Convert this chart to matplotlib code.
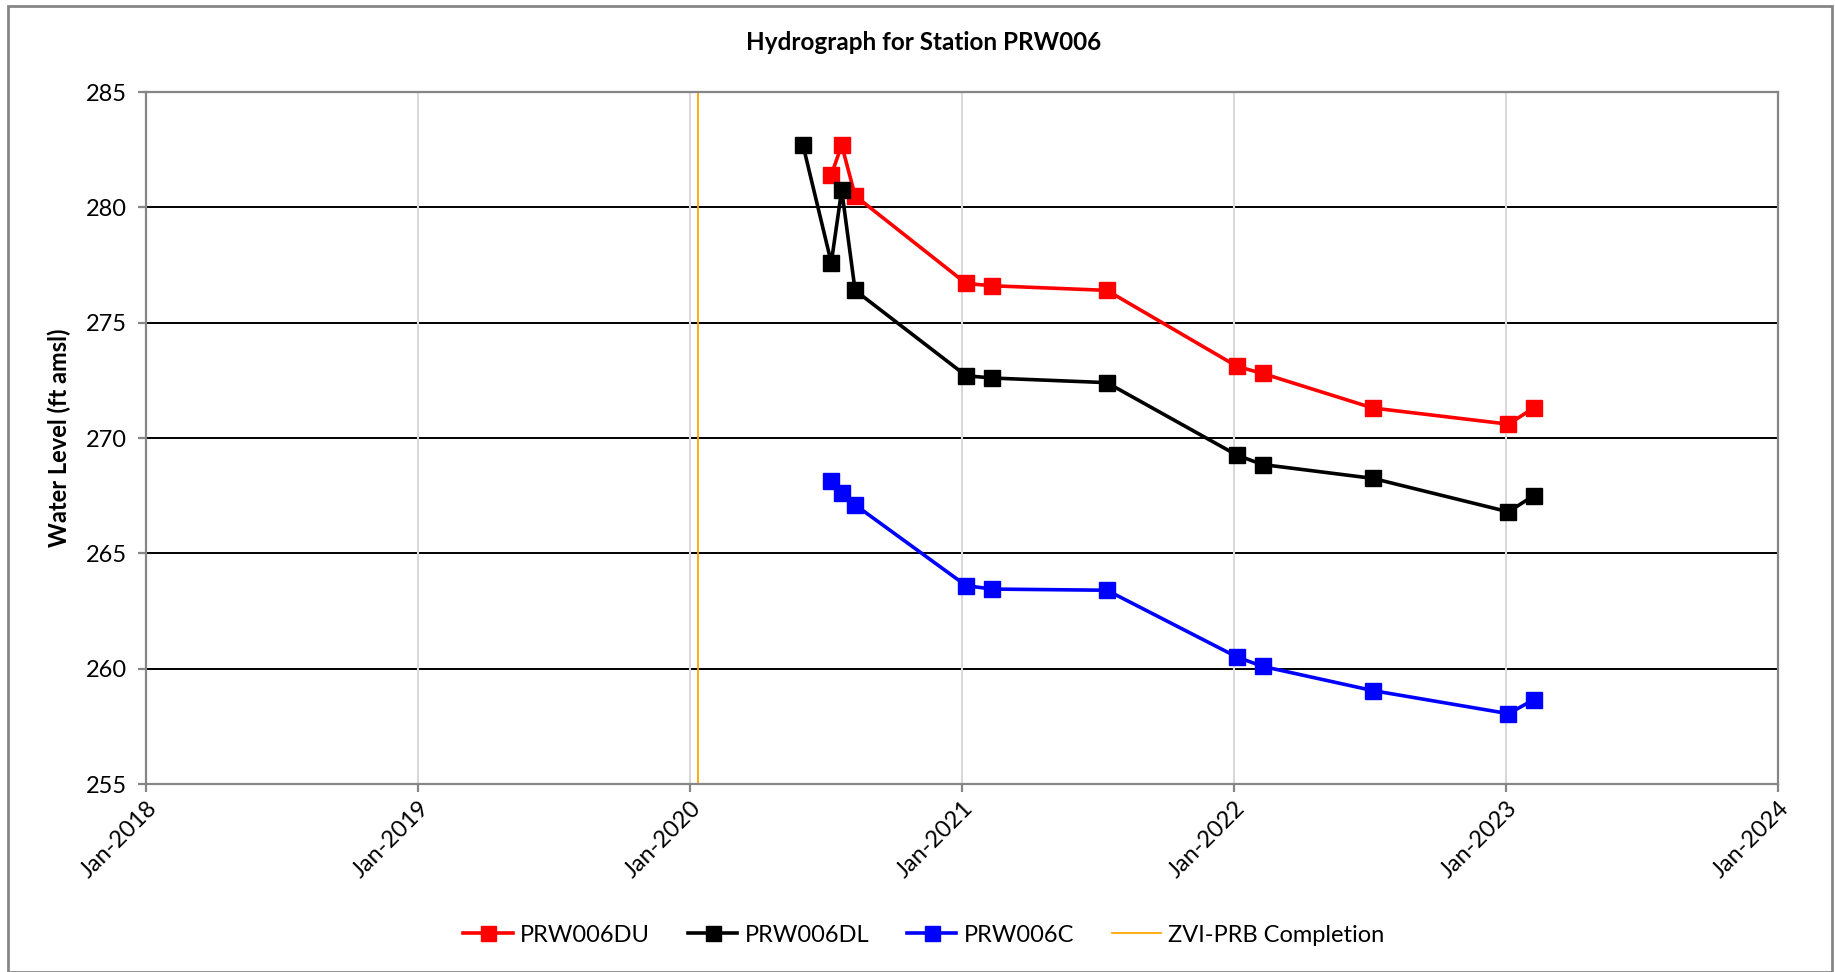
import numpy as np
import pandas as pd
import matplotlib
matplotlib.use('Agg')
import matplotlib.pyplot as plt
import matplotlib.dates as mdates
from matplotlib.patches import Rectangle

plt.rcParams['font.family'] = ['Lato', 'DejaVu Sans']

# sampling dates
du_dates = ['2020-07-09', '2020-07-23', '2020-08-10', '2021-01-06', '2021-02-10', '2021-07-14',
            '2022-01-05', '2022-02-08', '2022-07-06', '2023-01-04', '2023-02-07']
dl_dates = ['2020-06-01', '2020-07-09', '2020-07-23', '2020-08-10', '2021-01-06', '2021-02-10',
            '2021-07-14', '2022-01-05', '2022-02-08', '2022-07-06', '2023-01-04', '2023-02-07']
c_dates = du_dates

# water levels (ft amsl)
du_level = [281.4, 282.7, 280.5, 276.7, 276.6, 276.4, 273.1, 272.8, 271.3, 270.6, 271.3]
dl_level = [282.7, 277.6, 280.75, 276.4, 272.7, 272.6, 272.4, 269.25, 268.85, 268.25, 266.8, 267.5]
c_level = [268.15, 267.6, 267.1, 263.6, 263.45, 263.4, 260.5, 260.1, 259.05, 258.05, 258.65]

zvi_date = '2020-01-12'

fig = plt.figure(figsize=(18.35, 9.72), dpi=100)
ax = fig.add_axes([146/1835, 1-784/972, (1778-146)/1835, (784-92)/972])

# outer chart border
fig.patches.append(Rectangle((8/1835, 0.0), (1832-8)/1835, 1-6/972, transform=fig.transFigure,
                             fill=False, edgecolor='#868686', linewidth=2))

ax.axvline(pd.Timestamp(zvi_date), color='#FFA500', linewidth=1.3, label='ZVI-PRB Completion', zorder=2)

ms = 12
lw = 2.6
ax.plot(pd.to_datetime(du_dates), du_level, color='#FF0000', marker='s', markersize=ms, linewidth=lw,
        label='PRW006DU', zorder=4)
ax.plot(pd.to_datetime(dl_dates), dl_level, color='black', marker='s', markersize=ms, linewidth=lw,
        label='PRW006DL', zorder=4)
ax.plot(pd.to_datetime(c_dates), c_level, color='#0000FF', marker='s', markersize=ms, linewidth=lw,
        label='PRW006C', zorder=4)

ax.set_xlim(pd.Timestamp('2018-01-01'), pd.Timestamp('2024-01-01'))
ax.set_ylim(255, 285)
ax.set_yticks(np.arange(255, 286, 5))
years = pd.to_datetime(['2018-01-01', '2019-01-01', '2020-01-01', '2021-01-01',
                        '2022-01-01', '2023-01-01', '2024-01-01'])
ax.set_xticks(years)
ax.xaxis.set_major_formatter(mdates.DateFormatter('%b-%Y'))

# grid lines
for y in range(260, 285, 5):
    ax.axhline(y, color='black', linewidth=1.4, zorder=1)
for x in years[1:-1]:
    ax.axvline(x, color='#D9D9D9', linewidth=1.5, zorder=1)

for s in ax.spines.values():
    s.set_color('#868686')
    s.set_linewidth(1.6)
ax.tick_params(axis='both', color='#868686', width=1.6, length=6, labelsize=17, direction='out')
ax.tick_params(axis='y', pad=8)
plt.setp(ax.get_xticklabels(), rotation=45, ha='right', rotation_mode='anchor')

ax.set_ylabel('Water Level (ft amsl)', fontsize=17, fontweight='bold', labelpad=10)
fig.text(924/1835, 1-43/972, 'Hydrograph for Station PRW006', ha='center', va='center',
         fontsize=17.5, fontweight='bold')

handles, labels = ax.get_legend_handles_labels()
order = [1, 2, 3, 0]
fig.legend([handles[i] for i in order], [labels[i] for i in order], loc='center',
           bbox_to_anchor=(924/1835, 1-935/972), ncol=4, frameon=False, fontsize=17,
           handlelength=2.1, columnspacing=1.6, handletextpad=0.3, markerscale=0.9)

fig.savefig('out.png', dpi=100)
